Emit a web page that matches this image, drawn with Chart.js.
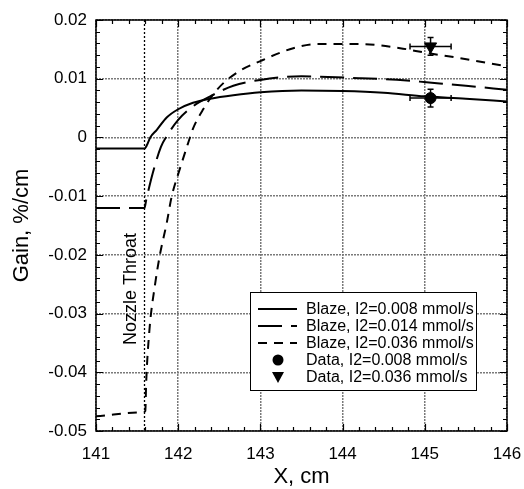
<!DOCTYPE html>
<html>
<head>
<meta charset="utf-8">
<script src="https://cdn.jsdelivr.net/npm/chart.js@4.4.0/dist/chart.umd.min.js"></script>
<style>
  html, body { margin: 0; padding: 0; background: #fff; }
  #wrap { width: 524px; height: 489px; }
</style>
</head>
<body>
<div id="wrap"><canvas id="chart" width="524" height="489"></canvas></div>
<script>
const FONT = "'Liberation Sans', Arial, Helvetica, sans-serif";

// Blaze, I2=0.008 mmol/s (solid)
const blaze008X = [141, 141.59, 141.62, 141.66, 141.74, 141.86, 142.0, 142.18, 142.39, 142.67, 143.0, 143.5, 144.0, 144.5, 145.0, 145.5, 146];
const blaze008Y = [-0.0019, -0.0019, -0.0013, 0.0000, 0.0013, 0.0034, 0.0048, 0.0059, 0.0066, 0.0072, 0.0077, 0.0080, 0.0079, 0.0076, 0.0070, 0.0066, 0.0061];

// Blaze, I2=0.014 mmol/s (long dash)
const blaze014X = [141, 141.59, 141.61, 141.69, 141.79, 141.86, 142.0, 142.18, 142.39, 142.67, 143.0, 143.5, 144.2, 144.78, 145.02, 145.5, 146];
const blaze014Y = [-0.0120, -0.0120, -0.0107, -0.0061, -0.0016, 0.0002, 0.0030, 0.0053, 0.0070, 0.0088, 0.0098, 0.0104, 0.0101, 0.0097, 0.0094, 0.0088, 0.0081];

// Blaze, I2=0.036 mmol/s (short dash)
const blaze036X = [141, 141.57, 141.6, 141.61, 141.65, 141.72, 141.78, 141.86, 141.92, 142.01, 142.12, 142.18, 142.3, 142.47, 142.71, 143.0, 143.4, 143.69, 144.22, 144.7, 145.02, 145.43, 146];
const blaze036Y = [-0.0475, -0.0468, -0.0466, -0.0419, -0.0328, -0.0249, -0.0198, -0.0146, -0.0101, -0.0058, -0.0010, 0.0015, 0.0047, 0.0081, 0.0110, 0.0130, 0.0152, 0.0159, 0.0159, 0.0152, 0.0144, 0.0135, 0.0121];

// mesures
const dataX = [145.07];
const data008Y = [0.0067];
const data036Y = [0.0155];
const dataXErr = [0.25];
const dataYErr = [0.0015];

const nozzleX = 141.59;

const xTickValues = [141, 142, 143, 144, 145, 146];
const xTickLabels = ['141', '142', '143', '144', '145', '146'];
const yTickValues = [-0.05, -0.04, -0.03, -0.02, -0.01, 0, 0.01, 0.02];
const yTickLabels = ['-0.05', '-0.04', '-0.03', '-0.02', '-0.01', '0', '0.01', '0.02'];

const legendLabels = [
  'Blaze, I2=0.008 mmol/s',
  'Blaze, I2=0.014 mmol/s',
  'Blaze, I2=0.036 mmol/s',
  'Data, I2=0.008 mmol/s',
  'Data, I2=0.036 mmol/s'
];

function toPoints(xs, ys) {
  return xs.map((v, i) => ({ x: v, y: ys[i] }));
}

// dessin : ligne du col, barres d'erreur, cadre, graduations, légende
const decor = {
  id: 'decor',
  beforeDatasetsDraw(chart) {
    const { ctx, chartArea: a, scales: { x, y } } = chart;
    ctx.save();
    ctx.strokeStyle = '#000';
    ctx.lineWidth = 1.3;
    ctx.setLineDash([2, 2]);
    const nx = x.getPixelForValue(nozzleX);
    ctx.beginPath();
    ctx.moveTo(nx, a.top);
    ctx.lineTo(nx, a.bottom);
    ctx.stroke();
    ctx.setLineDash([]);

    // barres d'erreur
    ctx.lineWidth = 1.5;
    [data008Y, data036Y].forEach(ys => {
      dataX.forEach((xv, i) => {
        const px = x.getPixelForValue(xv);
        const py = y.getPixelForValue(ys[i]);
        const x0 = x.getPixelForValue(xv - dataXErr[i]);
        const x1 = x.getPixelForValue(xv + dataXErr[i]);
        const y0 = y.getPixelForValue(ys[i] - dataYErr[i]);
        const y1 = y.getPixelForValue(ys[i] + dataYErr[i]);
        ctx.beginPath();
        ctx.moveTo(x0, py); ctx.lineTo(x1, py);
        ctx.moveTo(x0, py - 3); ctx.lineTo(x0, py + 3);
        ctx.moveTo(x1, py - 3); ctx.lineTo(x1, py + 3);
        ctx.moveTo(px, y0); ctx.lineTo(px, y1);
        ctx.moveTo(px - 3, y0); ctx.lineTo(px + 3, y0);
        ctx.moveTo(px - 3, y1); ctx.lineTo(px + 3, y1);
        ctx.stroke();
      });
    });
    ctx.restore();
  },
  afterDatasetsDraw(chart) {
    const { ctx, chartArea: a, scales: { x, y } } = chart;
    ctx.save();
    ctx.strokeStyle = '#000';
    ctx.lineWidth = 1.2;

    // graduations vers l'intérieur
    ctx.beginPath();
    for (let k = 0; k <= 25; k++) {
      const v = 141 + k * 0.2;
      const px = Math.round(x.getPixelForValue(v)) + 0.5;
      const len = k % 5 === 0 ? 7 : 4;
      ctx.moveTo(px, a.bottom); ctx.lineTo(px, a.bottom - len);
      ctx.moveTo(px, a.top); ctx.lineTo(px, a.top + len);
    }
    for (let k = 0; k <= 35; k++) {
      const v = -0.05 + k * 0.002;
      const py = Math.round(y.getPixelForValue(v)) + 0.5;
      const len = k % 5 === 0 ? 7 : 4;
      ctx.moveTo(a.left, py); ctx.lineTo(a.left + len, py);
      ctx.moveTo(a.right, py); ctx.lineTo(a.right - len, py);
    }
    ctx.stroke();

    // cadre
    ctx.lineWidth = 1.5;
    ctx.strokeRect(a.left, a.top, a.right - a.left, a.bottom - a.top);

    // texte "Nozzle Throat"
    ctx.fillStyle = '#000';
    ctx.font = '18px ' + FONT;
    ctx.translate(x.getPixelForValue(nozzleX) - 13, 289);
    ctx.rotate(-Math.PI / 2);
    ctx.textAlign = 'center';
    ctx.textBaseline = 'middle';
    ctx.fillText('Nozzle Throat', 0, 0);
    ctx.restore();

    // légende
    ctx.save();
    const bx = 250, by = 292, bw = 226, bh = 98;
    ctx.fillStyle = '#fff';
    ctx.fillRect(bx, by, bw, bh);
    ctx.strokeStyle = '#000';
    ctx.lineWidth = 1;
    ctx.strokeRect(bx + 0.5, by + 0.5, bw, bh);
    ctx.font = '16px ' + FONT;
    ctx.textBaseline = 'middle';
    ctx.textAlign = 'left';
    chart.data.datasets.forEach((ds, i) => {
      const ry = 309 + i * 17;
      ctx.strokeStyle = '#000';
      ctx.fillStyle = '#000';
      if (ds.showLine) {
        ctx.lineWidth = ds.borderWidth;
        ctx.setLineDash(ds.borderDash || []);
        ctx.beginPath();
        ctx.moveTo(258, ry);
        ctx.lineTo(297, ry);
        ctx.stroke();
        ctx.setLineDash([]);
      } else if (ds.pointStyle === 'circle') {
        ctx.beginPath();
        ctx.arc(278, ry, 5.5, 0, Math.PI * 2);
        ctx.fill();
      } else {
        ctx.beginPath();
        ctx.moveTo(272, ry - 5);
        ctx.lineTo(284, ry - 5);
        ctx.lineTo(278, ry + 6);
        ctx.closePath();
        ctx.fill();
      }
      ctx.fillText(legendLabels[i], 306, ry + 1);
    });
    ctx.restore();
  }
};

const lineDs = (label, pts, dash) => ({
  label, data: pts, showLine: true, borderColor: '#000', borderWidth: 2,
  borderDash: dash, pointRadius: 0, fill: false, cubicInterpolationMode: 'monotone'
});

new Chart(document.getElementById('chart'), {
  type: 'scatter',
  data: {
    datasets: [
      lineDs(legendLabels[0], toPoints(blaze008X, blaze008Y), []),
      lineDs(legendLabels[1], toPoints(blaze014X, blaze014Y), [24, 9]),
      lineDs(legendLabels[2], toPoints(blaze036X, blaze036Y), [9, 7]),
      {
        label: legendLabels[3], data: toPoints(dataX, data008Y), showLine: false,
        pointStyle: 'circle', pointRadius: 5.5, backgroundColor: '#000', borderColor: '#000'
      },
      {
        label: legendLabels[4], data: toPoints(dataX, data036Y), showLine: false,
        pointStyle: 'triangle', rotation: 180, pointRadius: 7, backgroundColor: '#000', borderColor: '#000'
      }
    ]
  },
  options: {
    responsive: false,
    animation: false,
    layout: { padding: { top: 20, right: 17, left: 0, bottom: 0 } },
    plugins: { legend: { display: false }, tooltip: { enabled: false } },
    scales: {
      x: {
        type: 'linear', min: 141, max: 146,
        afterBuildTicks: s => { s.ticks = xTickValues.map(v => ({ value: v })); },
        ticks: {
          callback: (v, i) => xTickLabels[i],
          font: { family: FONT, size: 17 }, color: '#000', padding: 13, maxRotation: 0
        },
        grid: { color: '#7a7a7a', lineWidth: 1.5, drawTicks: false },
        border: { display: false, dash: [2, 1] },
        title: { display: true, text: 'X, cm', font: { family: FONT, size: 22 }, color: '#000', padding: { top: 0, bottom: -1 } },
        afterFit: s => { s.height = 58; s.paddingLeft = 0; s.paddingRight = 0; }
      },
      y: {
        type: 'linear', min: -0.05, max: 0.02,
        afterBuildTicks: s => { s.ticks = yTickValues.map(v => ({ value: v })); },
        ticks: {
          callback: (v, i) => yTickLabels[i],
          font: { family: FONT, size: 17 }, color: '#000', padding: 9
        },
        grid: { color: '#7a7a7a', lineWidth: 1.5, drawTicks: false },
        border: { display: false, dash: [2, 1] },
        title: { display: true, text: 'Gain, %/cm', font: { family: FONT, size: 22 }, color: '#000', padding: { top: 9, bottom: 0 } },
        afterFit: s => { s.width = 96; s.paddingTop = 0; s.paddingBottom = 0; }
      }
    }
  },
  plugins: [decor]
});
</script>
</body>
</html>
